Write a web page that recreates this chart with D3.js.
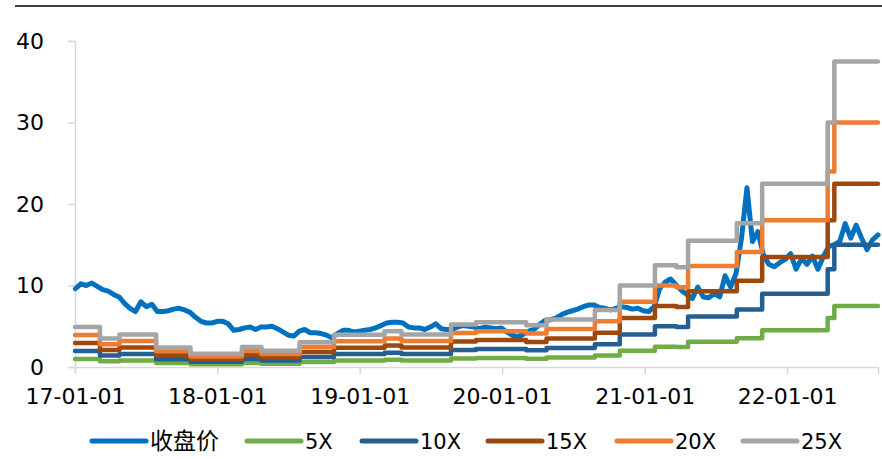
<!DOCTYPE html>
<html>
<head>
<meta charset="utf-8">
<script src="https://cdnjs.cloudflare.com/ajax/libs/d3/7.8.5/d3.min.js"></script>
<style>
  html, body { margin: 0; padding: 0; background: #fff; }
  svg { display: block; }
</style>
</head>
<body>
<svg id="chart" width="882" height="459"></svg>
<script>
// Closing price, sampled every two weeks from the first trading days of 2017
const priceStart = "2017-01-02";
const priceStepDays = 14;
const closePrice = [
  9.6, 10.2, 10.0, 10.3, 9.9, 9.5, 9.3, 8.9, 8.6, 7.8,
  7.2, 6.8, 8.0, 7.4, 7.7, 6.8, 6.8, 6.9, 7.1, 7.2,
  7.0, 6.7, 6.1, 5.6, 5.4, 5.4, 5.6, 5.6, 5.3, 4.5,
  4.6, 4.8, 4.9, 4.6, 4.9, 4.9, 5.0, 4.7, 4.3, 3.9,
  3.8, 4.4, 4.6, 4.2, 4.2, 4.1, 3.9, 3.6, 4.1, 4.5,
  4.5, 4.3, 4.4, 4.5, 4.6, 4.8, 5.1, 5.4, 5.5, 5.5,
  5.4, 4.9, 4.8, 4.8, 4.6, 4.9, 5.3, 4.7, 4.6, 4.6,
  4.9, 5.1, 5.0, 4.9, 4.7, 4.9, 4.8, 4.7, 4.8, 4.3,
  3.9, 3.7, 4.0, 4.4, 4.6, 5.2, 5.7, 5.8, 6.0, 6.4,
  6.7, 6.9, 7.1, 7.4, 7.6, 7.6, 7.3, 7.2, 7.0, 7.2,
  7.4, 7.3, 7.1, 7.2, 6.9, 6.8, 7.4, 9.6, 10.4, 10.8,
  10.1, 9.4, 8.9, 8.4, 9.8, 8.6, 8.5, 9.0, 8.6, 11.2,
  9.8, 11.5, 15.8, 22.0, 15.4, 16.6, 13.8, 12.6, 12.3, 12.8,
  13.2, 13.9, 12.0, 13.3, 12.6, 13.6, 12.0, 13.6, 14.8, 15.0,
  15.4, 17.6, 15.8, 17.4, 15.8, 14.4, 15.6, 16.2
];

// Trailing EPS and the dates from which each value applies
const epsDates = [
  "2017-01-01", "2017-03-06", "2017-04-25", "2017-07-28", "2017-10-24",
  "2018-03-05", "2018-04-24", "2018-07-31", "2018-10-27", "2019-03-06",
  "2019-04-18", "2019-08-23", "2019-10-26", "2020-03-03", "2020-04-24",
  "2020-08-26", "2020-10-29", "2021-01-27", "2021-03-23", "2021-04-22",
  "2021-08-25", "2021-10-29", "2022-04-15", "2022-05-02"
];
const eps = [
  0.196, 0.14, 0.16, 0.096, 0.065,
  0.098, 0.08, 0.122, 0.158, 0.175,
  0.16, 0.208, 0.22, 0.205, 0.233,
  0.28, 0.4, 0.5, 0.49, 0.62,
  0.705, 0.9, 1.2, 1.5
];
const epsEnd = "2022-08-22";

// PE multiples drawn as bands
const multiples = [5, 10, 15, 20, 25];
const bandLabels = ["5X", "10X", "15X", "20X", "25X"];
const priceLabel = "收盘价";

const xTickLabels = ["17-01-01", "18-01-01", "19-01-01", "20-01-01", "21-01-01", "22-01-01"];
const yTicks = [0, 10, 20, 30, 40];

const priceColor = "#0070C0";
const bandColors = ["#70AD47", "#255E91", "#9E480E", "#ED7D31", "#A5A5A5"];

const parse = d3.timeParse("%Y-%m-%d");
const svg = d3.select("#chart");

const plot = { left: 75, right: 878, top: 41, bottom: 367 };

const x = d3.scaleTime()
  .domain([parse("2017-01-01"), parse(epsEnd)])
  .range([plot.left, plot.right]);
const y = d3.scaleLinear()
  .domain([0, 40])
  .range([plot.bottom, plot.top]);

// top rule
svg.append("line")
  .attr("x1", 15).attr("x2", 882)
  .attr("y1", 6).attr("y2", 6)
  .attr("stroke", "#404040").attr("stroke-width", 2);

const numFont = "'DejaVu Sans', sans-serif";

// y axis
const yAxis = svg.append("g")
  .attr("transform", `translate(${plot.left},0)`)
  .call(d3.axisLeft(y).tickValues(yTicks).tickSize(7).tickPadding(24).tickFormat(d3.format("d")));
yAxis.select(".domain").attr("stroke", "#D9D9D9").attr("stroke-width", 1.5);
yAxis.selectAll(".tick line").attr("stroke", "#D9D9D9").attr("stroke-width", 1.5);
yAxis.selectAll(".tick text")
  .attr("font-family", numFont).attr("font-size", 22).attr("fill", "#000");

// x axis
const xTickDates = xTickLabels.map(s => parse("20" + s.slice(0, 2) + "-01-01"));
const xAxis = svg.append("g")
  .attr("transform", `translate(0,${plot.bottom})`)
  .call(d3.axisBottom(x).tickValues(xTickDates).tickSize(7).tickPadding(14)
    .tickFormat((d, i) => xTickLabels[i]));
xAxis.select(".domain").attr("stroke", "#D9D9D9").attr("stroke-width", 1.5);
xAxis.selectAll(".tick line").attr("stroke", "#D9D9D9").attr("stroke-width", 1.5);
xAxis.selectAll(".tick text")
  .attr("font-family", numFont).attr("font-size", 22).attr("fill", "#000");

// closing price line
const priceData = closePrice.map((v, i) => ({
  date: d3.timeDay.offset(parse(priceStart), i * priceStepDays),
  value: v
}));
const priceLine = d3.line()
  .x(d => x(d.date))
  .y(d => y(d.value))
  .curve(d3.curveLinear);
svg.append("path")
  .datum(priceData)
  .attr("d", priceLine)
  .attr("fill", "none")
  .attr("stroke", priceColor)
  .attr("stroke-width", 5)
  .attr("stroke-linejoin", "round")
  .attr("stroke-linecap", "round");

// PE bands: price level = multiple x EPS, held until the next EPS update
const epsSteps = epsDates.map((d, i) => ({ date: parse(d), eps: eps[i] }));
epsSteps.push({ date: parse(epsEnd), eps: eps[eps.length - 1] });

multiples.forEach((m, k) => {
  const band = d3.line()
    .x(d => x(d.date))
    .y(d => y(d.eps * m))
    .curve(d3.curveStepAfter);
  svg.append("path")
    .datum(epsSteps)
    .attr("d", band)
    .attr("fill", "none")
    .attr("stroke", bandColors[k])
    .attr("stroke-width", 4.5)
    .attr("stroke-linejoin", "round")
    .attr("stroke-linecap", "round");
});

// legend
const legendItems = [{ label: priceLabel, color: priceColor }]
  .concat(bandLabels.map((l, i) => ({ label: l, color: bandColors[i] })));
const legendX = [92, 247, 362, 488, 617, 743];
const legendY = 441;
const legend = svg.append("g");
legendItems.forEach((it, i) => {
  const g = legend.append("g").attr("transform", `translate(${legendX[i]},${legendY})`);
  g.append("line")
    .attr("x1", 0).attr("x2", 54)
    .attr("stroke", it.color).attr("stroke-width", 5)
    .attr("stroke-linecap", "round");
  const isCJK = /[\u4e00-\u9fff]/.test(it.label);
  g.append("text")
    .attr("x", 58).attr("y", 0)
    .attr("dy", "0.36em")
    .attr("font-family", isCJK ? "'Noto Sans CJK SC', sans-serif" : numFont)
    .attr("font-size", isCJK ? 23 : 21)
    .attr("fill", "#000")
    .text(it.label);
});
</script>
</body>
</html>
